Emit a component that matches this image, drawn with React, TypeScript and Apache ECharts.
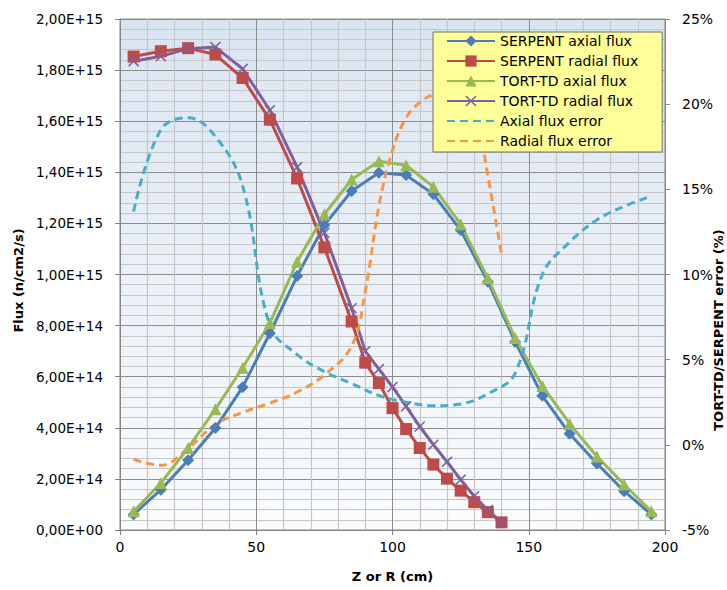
import React, { useEffect, useRef } from "react";
import * as echarts from "echarts";

// ---- data ----
const axialX = [5, 15, 25, 35, 45, 55, 65, 75, 85, 95, 105, 115, 125, 135, 145, 155, 165, 175, 185, 195];
const radialX = [5, 15, 25, 35, 45, 55, 65, 75, 85, 90, 95, 100, 105, 110, 115, 120, 125, 130, 135, 140];

// flux in units of 1E+15 n/cm2/s
const serpentAxial = [0.061, 0.158, 0.273, 0.399, 0.559, 0.77, 0.994, 1.193, 1.327, 1.398, 1.389, 1.314, 1.174, 0.972, 0.737, 0.525, 0.377, 0.26, 0.152, 0.061];
const tortAxial = [0.073, 0.184, 0.321, 0.473, 0.635, 0.81, 1.05, 1.236, 1.372, 1.443, 1.428, 1.343, 1.197, 0.985, 0.751, 0.564, 0.416, 0.288, 0.178, 0.073];
const serpentRadial = [1.853, 1.874, 1.886, 1.861, 1.769, 1.606, 1.376, 1.106, 0.816, 0.655, 0.575, 0.477, 0.395, 0.321, 0.256, 0.201, 0.154, 0.109, 0.07, 0.03];
const tortRadial = [1.835, 1.854, 1.884, 1.89, 1.805, 1.643, 1.42, 1.163, 0.868, 0.7, 0.63, 0.56, 0.484, 0.405, 0.334, 0.267, 0.197, 0.132, 0.078, 0.03];

// errors in %
const axialError = [13.7, 18.5, 19.2, 18.1, 15.2, 7.0, 5.3, 4.3, 3.6, 2.9, 2.5, 2.3, 2.4, 3.0, 4.2, 10.0, 11.9, 13.2, 14.0, 14.6];
const radialError = [-0.85, -1.2, -0.2, 1.2, 1.9, 2.45, 3.1, 4.1, 5.8, 9.0, 14.0, 17.3, 19.2, 20.1, 20.6, 21.0, 21.2, 20.0, 15.8, 11.2];

const seriesNames = [
  "SERPENT axial flux",
  "SERPENT radial flux",
  "TORT-TD axial flux",
  "TORT-TD radial flux",
  "Axial flux error",
  "Radial flux error",
];
const xAxisTitle = "Z or R (cm)";
const leftTitle = "Flux (n/cm2/s)";
const rightTitle = "TORT-TD/SERPENT error (%)";

const E15 = 1e15;
const FONT = "DejaVu Sans";

const pairs = (xs: number[], ys: number[], scale = 1) => xs.map((x, i) => [x, ys[i] * scale]);

const fmtSci = (v: number) => {
  if (Math.abs(v) < 1e-3) return "0,00E+00";
  const e = Math.floor(Math.log10(v) + 1e-9);
  const m = v / Math.pow(10, e);
  return m.toFixed(2).replace(".", ",") + "E+" + e;
};

const X_SYMBOL = "path://M1,0 L5,4 L9,0 L10,1 L6,5 L10,9 L9,10 L5,6 L1,10 L0,9 L4,5 L0,1 Z";

export default function App() {
  const ref = useRef<HTMLDivElement>(null);
  useEffect(() => {
    if (!ref.current) return;
    const chart = echarts.init(ref.current, undefined, { renderer: "svg" });
    const fluxLine = (name: string, xs: number[], ys: number[], color: string, symbol: string, size: number) => ({
      name,
      type: "line",
      yAxisIndex: 0,
      data: pairs(xs, ys, E15),
      symbol,
      symbolSize: size,
      showSymbol: true,
      lineStyle: { color, width: 3 },
      itemStyle: { color, borderColor: color, borderWidth: 0 },
      emphasis: { disabled: true },
    });
    const errLine = (name: string, xs: number[], ys: number[], color: string) => ({
      name,
      type: "line",
      yAxisIndex: 1,
      data: pairs(xs, ys),
      symbol: "none",
      smooth: 0.4,
      lineStyle: { color, width: 3, type: [8, 5] },
      itemStyle: { color },
      emphasis: { disabled: true },
    });
    const hiddenSym = { color: "rgba(0,0,0,0)", borderColor: "rgba(0,0,0,0)", borderWidth: 0, opacity: 0 };
    chart.setOption({
      animation: false,
      backgroundColor: "#ffffff",
      textStyle: { fontFamily: FONT },
      grid: {
        left: 120,
        right: 62,
        top: 19,
        bottom: 60,
        show: true,
        borderColor: "#868686",
        borderWidth: 1,
        backgroundColor: new echarts.graphic.LinearGradient(0, 0, 0, 1, [
          { offset: 0, color: "#dae4f1" },
          { offset: 1, color: "#fafcfe" },
        ]),
      },
      legend: {
        orient: "vertical",
        left: 433,
        top: 32,
        width: 230,
        backgroundColor: "#ffff99",
        borderColor: "#6e6e6e",
        borderWidth: 1,
        padding: [2, 24, 4, 13],
        itemWidth: 48,
        itemHeight: 14,
        itemGap: 6,
        textStyle: { fontFamily: FONT, fontSize: 14, color: "#000" },
        data: [
          seriesNames[0],
          seriesNames[1],
          seriesNames[2],
          seriesNames[3],
          { name: seriesNames[4], itemStyle: hiddenSym },
          { name: seriesNames[5], itemStyle: hiddenSym },
        ],
      },
      xAxis: {
        type: "value",
        min: 0,
        max: 200,
        interval: 50,
        name: xAxisTitle,
        nameLocation: "middle",
        nameGap: 40,
        nameTextStyle: { fontFamily: FONT, fontSize: 13, fontWeight: "bold", color: "#000" },
        axisLine: { show: true, lineStyle: { color: "#868686" } },
        axisTick: { show: true, length: 5, lineStyle: { color: "#868686" } },
        axisLabel: { fontFamily: FONT, fontSize: 14, color: "#000", margin: 10 },
        splitLine: { show: true, lineStyle: { color: "#8c8c8c", width: 1 } },
        minorTick: { show: false, splitNumber: 5 },
        minorSplitLine: { show: true, lineStyle: { color: "#c6c6c6", width: 1.2 } },
      },
      yAxis: [
        {
          type: "value",
          min: 0,
          max: 2e15,
          interval: 2e14,
          name: leftTitle,
          nameLocation: "middle",
          nameGap: 93,
          nameTextStyle: { fontFamily: FONT, fontSize: 13, fontWeight: "bold", color: "#000", padding: [0, 12, 0, 0] },
          axisLine: { show: true, lineStyle: { color: "#868686" } },
          axisTick: { show: true, length: 5, lineStyle: { color: "#868686" } },
          axisLabel: { fontFamily: FONT, fontSize: 13.5, color: "#000", margin: 17, formatter: fmtSci },
          splitLine: { show: true, lineStyle: { color: "#8c8c8c", width: 1 } },
          minorTick: { show: false, splitNumber: 5 },
          minorSplitLine: { show: true, lineStyle: { color: "#c6c6c6", width: 1.2 } },
        },
        {
          type: "value",
          min: -5,
          max: 25,
          interval: 5,
          position: "right",
          axisLine: { show: true, lineStyle: { color: "#868686" } },
          axisTick: { show: true, length: 5, lineStyle: { color: "#868686" } },
          axisLabel: { fontFamily: FONT, fontSize: 14, color: "#000", margin: 17, formatter: (v: number) => v + "%" },
          splitLine: { show: false },
        },
      ],
      graphic: [
        {
          type: "text",
          x: 718,
          y: 330,
          rotation: Math.PI / 2,
          style: {
            text: rightTitle,
            fontFamily: FONT,
            fontSize: 13,
            fontWeight: "bold",
            fill: "#000",
            align: "center",
            verticalAlign: "middle",
          },
        },
      ],
      series: [
        fluxLine(seriesNames[0], axialX, serpentAxial, "#4a7ebb", "diamond", 12),
        fluxLine(seriesNames[1], radialX, serpentRadial, "#be4b48", "rect", 12),
        fluxLine(seriesNames[2], axialX, tortAxial, "#98b954", "triangle", 12),
        fluxLine(seriesNames[3], radialX, tortRadial, "#7d60a0", X_SYMBOL, 11),
        errLine(seriesNames[4], axialX, axialError, "#4bacc6"),
        errLine(seriesNames[5], radialX, radialError, "#f79646"),
      ],
    });
    return () => chart.dispose();
  }, []);
  return (
    <div
      ref={ref}
      style={{ position: "absolute", left: 0, top: 0, width: 727, height: 590, background: "#fff" }}
    />
  );
}
